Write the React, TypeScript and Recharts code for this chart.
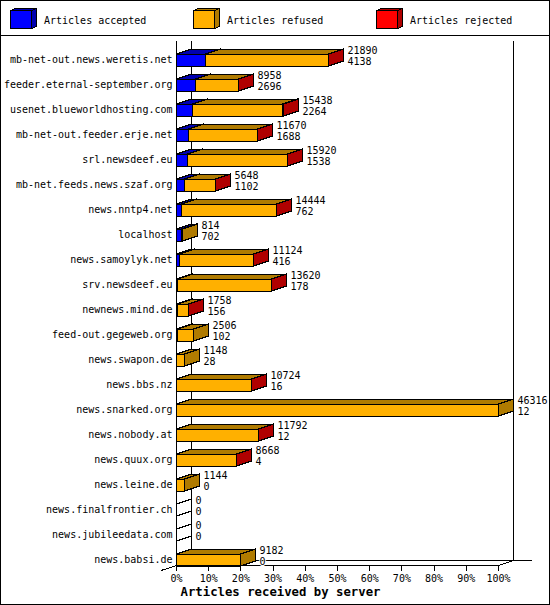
import { Bar, BarChart, LabelList, Legend, XAxis, YAxis } from 'recharts'

const servers = [
    'mb-net-out.news.weretis.net', 'feeder.eternal-september.org', 'usenet.blueworldhosting.com',
    'mb-net-out.feeder.erje.net', 'srl.newsdeef.eu', 'mb-net.feeds.news.szaf.org', 'news.nntp4.net',
    'localhost', 'news.samoylyk.net', 'srv.newsdeef.eu', 'newnews.mind.de', 'feed-out.gegeweb.org',
    'news.swapon.de', 'news.bbs.nz', 'news.snarked.org', 'news.nobody.at', 'news.quux.org',
    'news.leine.de', 'news.finalfrontier.ch', 'news.jubileedata.com', 'news.babsi.de',
]
const accepted = [4138, 2696, 2264, 1688, 1538, 1102, 762, 702, 416, 178, 156, 102, 28, 16, 12, 12, 4, 0, 0, 0, 0]
const refused = [17692, 6182, 12914, 9922, 14372, 4540, 13674, 112, 10702, 13436, 1598, 2404, 1120, 10704, 46304, 11774, 8662, 1144, 0, 0, 9182]
const rejected = [60, 80, 260, 60, 10, 6, 8, 0, 6, 6, 4, 0, 0, 4, 0, 6, 2, 0, 0, 0, 0]
const percentTicks = [0, 10, 20, 30, 40, 50, 60, 70, 80, 90, 100]
const maxTotal = 46316

const data = servers.map((server, i) => ({
    server,
    accepted: accepted[i],
    refused: refused[i],
    rejected: rejected[i],
    total: accepted[i] + refused[i] + rejected[i],
}))

const MONO = '"DejaVu Sans Mono", monospace'
const DEPTH_X = 15
const DEPTH_Y = 5
const BAR_SHIFT = 6.5

const colors = {
    accepted: { front: '#0000ff', dark: '#0000b0' },
    refused: { front: '#ffb000', dark: '#b07b00' },
    rejected: { front: '#ff0000', dark: '#b00000' },
}

function snap(v: number) {
    return Math.floor(v) + 0.5
}

function Box3D({ x, y, width, height, fill, dark, payload, last }: any) {
    const total = payload.total
    const left = snap(x)
    const right = snap(x + width)
    const top = y + BAR_SHIFT
    const bottom = top + height

    if (total === 0) {
        if (!last) return null
        return (
            <path
                d={`M${left},${top}L${left + DEPTH_X},${top - DEPTH_Y}M${left},${bottom}L${left + DEPTH_X},${bottom - DEPTH_Y}`}
                stroke="#000"
                shapeRendering="crispEdges"
            />
        )
    }
    if (width === 0) return null

    return (
        <g stroke="#000" shapeRendering="crispEdges">
            <path
                d={`M${left},${top}L${left + DEPTH_X},${top - DEPTH_Y}L${right + DEPTH_X},${top - DEPTH_Y}L${right},${top}Z`}
                fill={dark}
            />
            <path
                d={`M${right},${top}L${right + DEPTH_X},${top - DEPTH_Y}L${right + DEPTH_X},${bottom - DEPTH_Y}L${right},${bottom}Z`}
                fill={dark}
            />
            <rect x={left} y={top} width={right - left} height={height} fill={fill} />
        </g>
    )
}

function BarNumbers({ x, y, width, height, index }: any) {
    const end = snap(x + width) + DEPTH_X + 4
    const row = data[index]
    const bottom = y + BAR_SHIFT + height
    return (
        <g fontFamily={MONO} fontSize={10} fill="#000">
            <text x={end} y={bottom - 12.5}>{row.total}</text>
            <text x={end} y={bottom - 1.5} stroke="#fff" strokeWidth={2} paintOrder="stroke">{row.accepted}</text>
        </g>
    )
}

function ServerTick({ x, y, payload }: any) {
    return (
        <text x={x + 6} y={y + 10} textAnchor="end" fontFamily={MONO} fontSize={10} fill="#000">
            {payload.value}
        </text>
    )
}

function LegendRow({ payload }: any) {
    return (
        <svg width={550} height={36} style={{ display: 'block' }}>
            {(payload ?? []).map((entry: any, i: number) => {
                const x = 10.5 + i * 183
                const dark = colors[entry.dataKey as keyof typeof colors].dark
                return (
                    <g key={entry.value} stroke="#000" shapeRendering="crispEdges">
                        <path d={`M${x},10.5L${x + 5},8.5H${x + 26}L${x + 21},10.5Z`} fill={dark} />
                        <path d={`M${x + 21},10.5L${x + 26},8.5V26.5L${x + 21},28.5Z`} fill={dark} />
                        <rect x={x} y={10.5} width={21} height={18} fill={entry.color} />
                        <text x={x + 33.5} y={23.5} stroke="none" fill="#000" fontFamily={MONO} fontSize={10}>
                            {entry.value}
                        </text>
                    </g>
                )
            })}
        </svg>
    )
}

export default function App() {
    return (
        <div style={{ position: 'absolute', left: 0, top: 0 }}>
            <BarChart
                width={550}
                height={605}
                data={data}
                layout="vertical"
                barSize={12}
                barCategoryGap={0}
                margin={{ top: 4.5, right: 51.5, bottom: 0, left: 0 }}
            >
                <g stroke="#000" shapeRendering="crispEdges" fill="none">
                    <rect x={0.5} y={0.5} width={549} height={604} />
                    <path d="M0,35.5H550" />
                    <path d="M191.5,40.5V560.5M513.5,40.5V560.5M191.5,560.5H532" />
                    <path d="M161,570.5L176.5,565.5M498.5,565.5L513.5,560.5" />
                </g>
                <Legend verticalAlign="top" height={36} wrapperStyle={{ top: 0, left: 0, width: 550, height: 36 }} content={<LegendRow />} />
                <XAxis
                    type="number"
                    domain={[0, maxTotal]}
                    ticks={percentTicks.map(p => (p / 100) * maxTotal)}
                    tickFormatter={(v: number) => `${Math.round((v / maxTotal) * 100)}%`}
                    interval={0}
                    height={39.5}
                    tickSize={5}
                    tickMargin={4}
                    axisLine={{ stroke: '#000', shapeRendering: 'crispEdges' }}
                    tickLine={{ stroke: '#000', shapeRendering: 'crispEdges' }}
                    tick={{ fill: '#000', fontFamily: MONO, fontSize: 10 }}
                    label={{
                        value: 'Articles received by server',
                        position: 'insideBottom',
                        offset: 9,
                        dx: -57,
                        style: { fill: '#000', fontFamily: MONO, fontSize: 12.3, fontWeight: 'bold' },
                    }}
                />
                <YAxis
                    type="category"
                    dataKey="server"
                    width={176.5}
                    interval={0}
                    tickLine={false}
                    tickMargin={4}
                    axisLine={{ stroke: '#000', shapeRendering: 'crispEdges' }}
                    tick={<ServerTick />}
                />
                <Bar
                    dataKey="accepted"
                    name="Articles accepted"
                    stackId="a"
                    fill={colors.accepted.front}
                    isAnimationActive={false}
                    shape={(p: any) => <Box3D {...p} fill={colors.accepted.front} dark={colors.accepted.dark} />}
                />
                <Bar
                    dataKey="refused"
                    name="Articles refused"
                    stackId="a"
                    fill={colors.refused.front}
                    isAnimationActive={false}
                    shape={(p: any) => <Box3D {...p} fill={colors.refused.front} dark={colors.refused.dark} />}
                />
                <Bar
                    dataKey="rejected"
                    name="Articles rejected"
                    stackId="a"
                    fill={colors.rejected.front}
                    isAnimationActive={false}
                    shape={(p: any) => <Box3D {...p} fill={colors.rejected.front} dark={colors.rejected.dark} last />}
                >
                    <LabelList dataKey="total" content={<BarNumbers />} />
                </Bar>
            </BarChart>
        </div>
    )
}
